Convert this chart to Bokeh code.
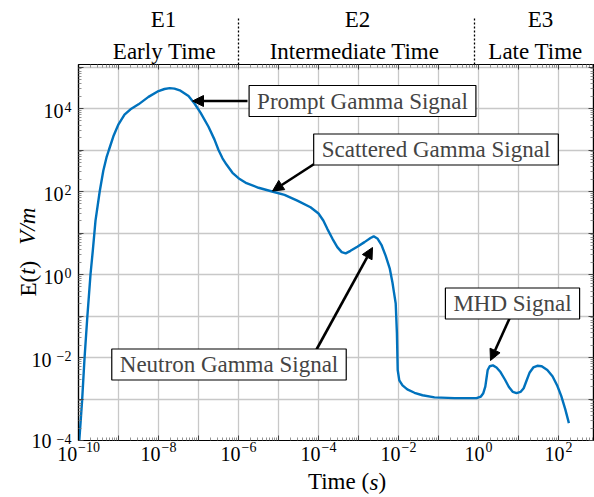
import math
from bokeh.plotting import figure
from bokeh.models import (Range1d, LogAxis, FixedTicker, CustomJSTickFormatter,
                          Label, Arrow, NormalHead)
from bokeh.embed import file_html
from bokeh.resources import INLINE

# ---------------- data ----------------
log_time = [-9.98, -9.91, -9.85, -9.78, -9.70, -9.64, -9.575, -9.47, -9.38, -9.30,
            -9.24, -9.12, -9.0, -8.85, -8.7, -8.5, -8.25, -8.0, -7.85, -7.72,
            -7.6, -7.45, -7.25, -7.1, -6.95, -6.75, -6.6, -6.5, -6.4, -6.3,
            -6.15, -6.0, -5.8, -5.5, -5.16, -4.85, -4.53, -4.2, -4.0, -3.88,
            -3.78, -3.65, -3.53, -3.42, -3.32, -3.2, -3.03, -2.85, -2.7, -2.62,
            -2.52, -2.42, -2.32, -2.22, -2.15, -2.12, -2.07, -2.04, -2.02, -1.98,
            -1.9, -1.78, -1.6, -1.4, -1.1, -0.6, -0.05, 0.06, 0.12, 0.17,
            0.2, 0.23, 0.28, 0.36, 0.45, 0.55, 0.66, 0.76, 0.86, 0.95,
            1.05, 1.13, 1.2, 1.28, 1.37, 1.47, 1.58, 1.72, 1.85, 1.97,
            2.07, 2.17, 2.26]
log_field = [-4.0, -3.04, -2.03, -1.03, 0.0, 0.6, 1.3, 2.0, 2.5, 2.82,
             3.0, 3.35, 3.62, 3.85, 3.98, 4.1, 4.28, 4.42, 4.47, 4.49,
             4.48, 4.43, 4.3, 4.12, 3.9, 3.56, 3.25, 3.0, 2.8, 2.65,
             2.45, 2.32, 2.2, 2.09, 2.0, 1.92, 1.78, 1.62, 1.47, 1.3,
             1.10, 0.86, 0.66, 0.54, 0.51, 0.57, 0.67, 0.78, 0.88, 0.92,
             0.86, 0.7, 0.45, 0.15, -0.2, -0.39, -0.7, -1.4, -2.3, -2.55,
             -2.67, -2.77, -2.85, -2.91, -2.96, -2.98, -2.98, -2.94, -2.86, -2.7,
             -2.5, -2.3, -2.21, -2.19, -2.24, -2.35, -2.53, -2.71, -2.83, -2.86,
             -2.83, -2.74, -2.56, -2.36, -2.24, -2.2, -2.21, -2.3, -2.45, -2.68,
             -2.93, -3.25, -3.58]

x_exponents = list(range(-10, 3))      # decades with grid lines on x
y_exponents = list(range(-4, 6))       # decades with grid lines on y
x_label_exponents = [-10, -8, -6, -4, -2, 0, 2]
y_label_exponents = [-4, -2, 0, 2, 4]

phase_names = ["E1", "E2", "E3"]
phase_titles = ["Early Time", "Intermediate Time", "Late Time"]

callout_texts = ["Prompt Gamma Signal", "Scattered Gamma Signal",
                 "Neutron Gamma Signal", "MHD Signal"]

# ---------------- layout helpers (canvas pixel -> data) ----------------
W, H = 594, 497
MB_L, MB_R, MB_T, MB_B = 78, 1, 64, 57
FRAME_L, FRAME_B = MB_L, H - MB_B
PX_DEC_X, PX_DEC_Y = 40.0, 41.5     # pixels per decade
frame_w = W - MB_L - MB_R
frame_h = H - MB_T - MB_B

def dx(px):
    return 10 ** ((px - FRAME_L) / PX_DEC_X - 10)

def dy(py):
    return 10 ** ((FRAME_B - py) / PX_DEC_Y - 4)

SERIF = "Liberation Serif"
BLUE = "#0072BD"

p = figure(width=W, height=H, x_axis_type="log", y_axis_type="log",
           x_range=Range1d(1e-10, 10 ** (frame_w / PX_DEC_X - 10)),
           y_range=Range1d(1e-4, 10 ** (frame_h / PX_DEC_Y - 4)),
           output_backend="svg", toolbar_location=None,
           min_border_left=MB_L, min_border_right=MB_R,
           min_border_top=MB_T, min_border_bottom=MB_B)
p.background_fill_color = "white"
p.border_fill_color = "white"
p.outline_line_color = "black"
p.outline_line_width = 1.2

x_major = [10.0 ** e for e in x_exponents]
x_minor = [k * 10.0 ** e for e in x_exponents for k in range(2, 10)]
y_major = [10.0 ** e for e in y_exponents]
y_minor = [k * 10.0 ** e for e in y_exponents for k in range(2, 10)]
x_ticker = FixedTicker(ticks=x_major, minor_ticks=x_minor)
y_ticker = FixedTicker(ticks=y_major, minor_ticks=y_minor)

def style_tick_axis(ax, ticker):
    ax.ticker = ticker
    ax.formatter = CustomJSTickFormatter(code="return ''")
    ax.major_label_text_font_size = "0px"
    ax.major_label_standoff = 0
    ax.major_tick_in = 5
    ax.major_tick_out = 0
    ax.minor_tick_in = 3
    ax.minor_tick_out = 0
    ax.major_tick_line_color = "#444444"
    ax.minor_tick_line_color = "#777777"
    ax.major_tick_line_width = 1
    ax.minor_tick_line_width = 0.8
    ax.axis_line_color = "black"
    ax.axis_line_width = 1.2

style_tick_axis(p.xaxis[0], x_ticker)
style_tick_axis(p.yaxis[0], y_ticker)
top_ax = LogAxis()
right_ax = LogAxis()
style_tick_axis(top_ax, x_ticker)
style_tick_axis(right_ax, y_ticker)
p.add_layout(top_ax, "above")
p.add_layout(right_ax, "right")

p.xgrid.ticker = x_ticker
p.ygrid.ticker = y_ticker
for g in (p.xgrid[0], p.ygrid[0]):
    g.grid_line_color = "#c8c8c8"
    g.grid_line_width = 1.3

t = [10 ** v for v in log_time]
e = [10 ** v for v in log_field]
p.line(t, e, line_color=BLUE, line_width=2.4)

# ---------------- text rows placed as extra (label-only) axes ----------------
def text_axis(side, positions, texts, size, standoff, style="normal",
              orientation="horizontal", minor=None):
    pairs = sorted(zip(positions, texts))
    ax = LogAxis(ticker=FixedTicker(ticks=[q for q, _ in pairs], minor_ticks=minor or []),
                 formatter=CustomJSTickFormatter(args=dict(names=[s for _, s in pairs]),
                                                 code="return names[index];"),
                 axis_line_color=None, major_tick_line_color=None,
                 minor_tick_line_color=None,
                 major_tick_in=0, major_tick_out=0, minor_tick_in=0, minor_tick_out=0,
                 major_label_text_font=SERIF, major_label_text_font_size=f"{size}px",
                 major_label_text_font_style=style, major_label_text_color="black",
                 major_label_standoff=standoff, major_label_orientation=orientation)
    p.add_layout(ax, side)
    return ax

def exp_str(n):
    return ("\u2212" + str(-n)) if n < 0 else str(n)

def exp_width(n, fs=14):
    return len(str(abs(n))) * 0.5 * fs + (0.564 * fs if n < 0 else 0)

BASE_FS, EXP_FS = 20, 14

# x tick labels: exponent row (nearest the frame), then the "10" row
x_tick_px = [FRAME_L + PX_DEC_X * (n + 10) for n in x_label_exponents]
x_base_px, x_base_txt = [], []
for n, tp in zip(x_label_exponents, x_tick_px):
    c = tp - (exp_width(n) + 1) / 2
    if c < FRAME_L + 0.5:                      # keep tick inside the range, pad text instead
        x_base_px.append(FRAME_L + 0.5)
        x_base_txt.append("10\u2002\u2002\u2006")
    else:
        x_base_px.append(c)
        x_base_txt.append("10")
text_axis("below", [dx(tp + 10.5) for tp in x_tick_px],
          [exp_str(n) for n in x_label_exponents], EXP_FS, 1)
text_axis("below", [dx(c) for c in x_base_px], x_base_txt, BASE_FS, -12)
# x axis title "Time (s)"
text_axis("below", [dx(338), dx(381.8)], ["Time (", ")"], 23, 1)
text_axis("below", [dx(373.5)], ["s"], 23, -27, style="italic")

# y tick labels
y_tick_py = [FRAME_B - PX_DEC_Y * (n + 4) for n in y_label_exponents]
text_axis("left", [dy(tp - 2) for tp in y_tick_py],
          [exp_str(n) for n in y_label_exponents], EXP_FS, 7)
pos_py = [tp for n, tp in zip(y_label_exponents, y_tick_py) if n >= 0]
neg_py = [tp for n, tp in zip(y_label_exponents, y_tick_py) if n < 0]
text_axis("left", [dy(min(tp + 2.5, FRAME_B)) for tp in pos_py],
          ["10"] * len(pos_py), BASE_FS, -10)
text_axis("left", [dy(min(tp + 2.5, FRAME_B)) for tp in neg_py],
          ["10"] * len(neg_py), BASE_FS, -11)
# y axis title "E(t)  V/m"
text_axis("left", [dy(285.2), dy(264.1)], ["E(", ")"], 23, -13, orientation="parallel")
text_axis("left", [dy(271.1), dy(225.7)], ["t", "V/m"], 23, -27, style="italic",
          orientation="parallel")

# phase headings above the plot, with dotted separators as long minor ticks
sep_ax = text_axis("above", [dx(164), dx(354), dx(535)], phase_titles, 23, -45,
                   minor=[dx(238.3), dx(474)])
sep_ax.minor_tick_line_color = "black"
sep_ax.minor_tick_line_width = 1.3
sep_ax.minor_tick_line_dash = "2 2"
sep_ax.minor_tick_in = 0
sep_ax.minor_tick_out = 46
text_axis("above", [dx(163), dx(357), dx(540)], phase_names, 23, 4)

# ---------------- call-out arrows and boxes ----------------
arrows = [((247, 100.5), (192, 100.5)),
          ((316, 162), (272, 190.5)),
          ((316, 349), (372, 247)),
          ((509, 318), (490, 360))]
for (x0, y0), (x1, y1) in arrows:
    p.add_layout(Arrow(end=NormalHead(size=11, fill_color="black", line_color="black",
                                      line_width=1),
                       x_start=dx(x0), y_start=dy(y0), x_end=dx(x1), y_end=dy(y1),
                       line_color="black", line_width=2.6))

box_centers = [(362, 100.5), (435.5, 149), (228.5, 364), (512, 303)]
for txt, (bx, by) in zip(callout_texts, box_centers):
    p.add_layout(Label(x=dx(bx), y=dy(by), text=txt, text_font=SERIF,
                       text_font_size="23px", text_align="center", text_baseline="middle",
                       background_fill_color="white", border_line_color="black",
                       border_line_width=1.2,
                       padding=dict(left=8, right=8, top=3, bottom=3)))

open("out.html", "w").write(file_html(p, INLINE))
